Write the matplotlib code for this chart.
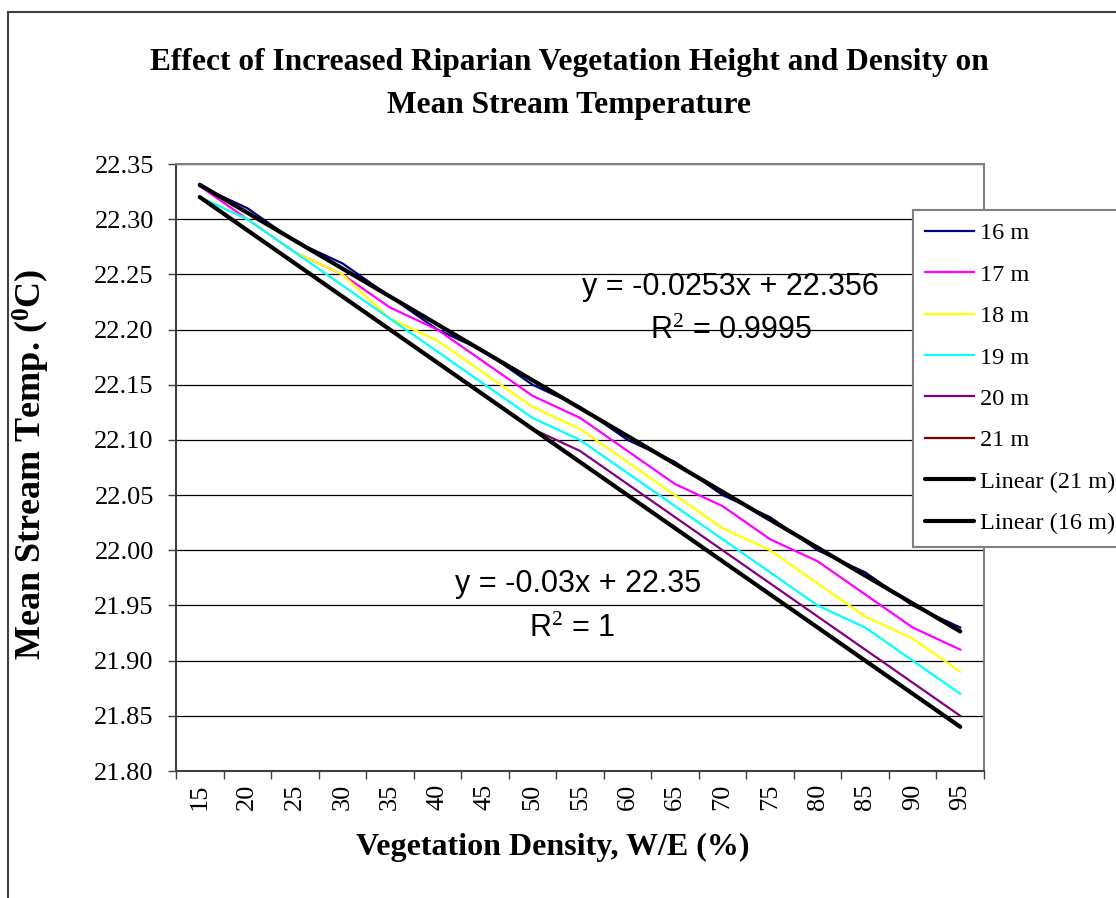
import numpy as np
import matplotlib
matplotlib.use("Agg")
import matplotlib.pyplot as plt
from matplotlib.patches import Rectangle

plt.rcParams['font.family'] = ['Liberation Serif', 'DejaVu Serif']
plt.rcParams['mathtext.fontset'] = 'custom'
plt.rcParams['mathtext.rm'] = 'Liberation Serif'
plt.rcParams['mathtext.bf'] = 'Liberation Serif:bold'
plt.rcParams['mathtext.it'] = 'Liberation Serif:italic'

# ---- data ----
density = ["15", "20", "25", "30", "35", "40", "45", "50", "55",
           "60", "65", "70", "75", "80", "85", "90", "95"]
h16 = [22.33, 22.31, 22.28, 22.26, 22.23, 22.20, 22.18, 22.15, 22.13,
       22.10, 22.08, 22.05, 22.03, 22.00, 21.98, 21.95, 21.93]
h17 = [22.33, 22.30, 22.27, 22.25, 22.22, 22.20, 22.17, 22.14, 22.12,
       22.09, 22.06, 22.04, 22.01, 21.99, 21.96, 21.93, 21.91]
h18 = [22.32, 22.30, 22.27, 22.25, 22.21, 22.19, 22.16, 22.13, 22.11,
       22.08, 22.05, 22.02, 22.00, 21.97, 21.94, 21.92, 21.89]
h19 = [22.32, 22.30, 22.27, 22.24, 22.21, 22.18, 22.15, 22.12, 22.10,
       22.07, 22.04, 22.01, 21.98, 21.95, 21.93, 21.90, 21.87]
h20 = [22.32, 22.29, 22.26, 22.23, 22.20, 22.17, 22.14, 22.11, 22.09,
       22.06, 22.03, 22.00, 21.97, 21.94, 21.91, 21.88, 21.85]
h21 = [22.32, 22.29, 22.26, 22.23, 22.20, 22.17, 22.14, 22.11, 22.08,
       22.05, 22.02, 21.99, 21.96, 21.93, 21.90, 21.87, 21.84]

series_names = ["16 m", "17 m", "18 m", "19 m", "20 m", "21 m"]
series_colors = ["#000080", "#FF00FF", "#FFFF00", "#00FFFF", "#800080", "#800000"]
series_values = [h16, h17, h18, h19, h20, h21]

title = "Effect of Increased Riparian Vegetation Height and Density on\nMean Stream Temperature"
eq16 = "y = -0.0253x + 22.356"
r16 = "R$^2$ = 0.9995"
eq21 = "y = -0.03x + 22.35"
r21 = "R$^2$ = 1"

W, H = 1116, 898
fig = plt.figure(figsize=(W / 100, H / 100), dpi=100)
fig.patch.set_facecolor("white")

# outer chart border
fig.patches.append(Rectangle((8 / W, -0.1), 1.2, 1 - 12 / H + 0.1,
                             transform=fig.transFigure, fill=False,
                             edgecolor="#404040", linewidth=1.5, zorder=0))

ax = fig.add_axes([176 / W, 1 - 771 / H, (984 - 176) / W, (771 - 164) / H])

idx = np.arange(len(density))
handles = []
for name, col, vals in zip(series_names, series_colors, series_values):
    ln, = ax.plot(idx, vals, color=col, lw=1.6, label=name, zorder=3)
    handles.append(ln)

# linear trendlines (Excel x = 1..n)
xe = idx + 1
for vals, name in [(h21, "Linear (21 m)"), (h16, "Linear (16 m)")]:
    p = np.polyfit(xe, vals, 1)
    ln, = ax.plot(idx, np.polyval(p, xe), color="black", lw=3.0,
                  solid_capstyle="round", label=name, zorder=4)
    handles.append(ln)

ax.set_xlim(-0.5, len(density) - 0.5)
ax.set_ylim(21.80, 22.35)
yt = np.round(np.arange(21.80, 22.351, 0.05), 2)
ax.set_yticks(yt)
ax.set_yticklabels([f"{v:.2f}" for v in yt], fontsize=19)
ax.yaxis.grid(True, color="black", lw=0.9)
ax.set_axisbelow(True)

ax.set_xticks(np.arange(-0.5, len(density), 1.0))
ax.set_xticklabels([])
ax.set_xticks(idx, minor=True)
ax.set_xticklabels(density, minor=True, rotation=90, fontsize=19)
ax.tick_params(axis="x", which="major", direction="out", length=6, width=1, color="#404040")
ax.tick_params(axis="x", which="minor", length=0, pad=9)
ax.tick_params(axis="y", direction="out", length=6, width=1, color="#404040", pad=10)

for s in ["top", "right"]:
    ax.spines[s].set_color("#808080")
    ax.spines[s].set_linewidth(1.5)
for s in ["left", "bottom"]:
    ax.spines[s].set_color("#404040")
    ax.spines[s].set_linewidth(1.5)

ax.set_xlabel("Vegetation Density, W/E (%)", fontsize=23, fontweight="bold")
ax.xaxis.set_label_coords((553 - 176) / 808, (771 - 833) / 607)
ax.set_ylabel(r"Mean Stream Temp. ($^\mathbf{0}$C)", fontsize=26, fontweight="bold")
ax.yaxis.set_label_coords((52 - 176) / 808, (771 - 464) / 607)

fig.text(569 / W, 1 - 84 / H, title, ha="center", va="center", fontsize=22.6,
         fontweight="bold", linespacing=1.6)

sans = ['Liberation Sans', 'DejaVu Sans']
fig.text(730 / W, 1 - 287 / H, eq16, ha="center", va="center", fontsize=22, family=sans)
fig.text(731 / W, 1 - 331 / H, r16, ha="center", va="center", fontsize=22, family=sans)
fig.text(578 / W, 1 - 584 / H, eq21, ha="center", va="center", fontsize=22, family=sans)
fig.text(572 / W, 1 - 629 / H, r21, ha="center", va="center", fontsize=22, family=sans)

leg = fig.legend(handles=handles, loc="upper left", bbox_to_anchor=(913 / W, 1 - 210 / H),
                 bbox_transform=fig.transFigure, fontsize=17.5, frameon=True, fancybox=False,
                 framealpha=1.0, handlelength=2.0, handletextpad=0.25, labelspacing=0.8,
                 borderpad=0.5, borderaxespad=0)
leg.get_frame().set_edgecolor("#808080")
leg.get_frame().set_linewidth(1.5)

fig.savefig("out.png", dpi=100, facecolor="white")
